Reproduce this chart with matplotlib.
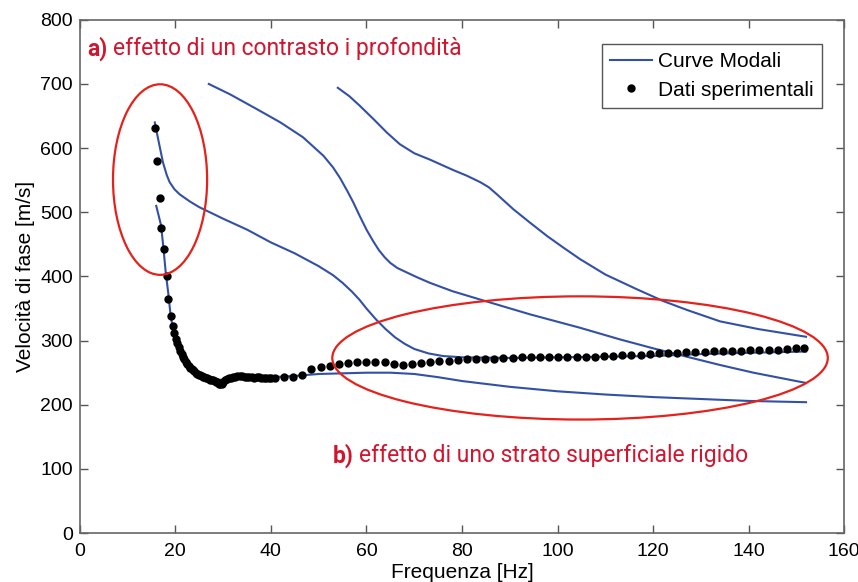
import matplotlib
matplotlib.use("Agg")
import matplotlib.pyplot as plt
from matplotlib.patches import Ellipse

# modal curves (frequency [Hz], phase velocity [m/s])
c1_f = [16, 16.5, 17, 17.5, 18, 18.5, 19, 19.5, 20, 21, 22, 23, 24, 25, 26, 27, 28, 29, 30,
        32, 35, 38, 40, 45, 50, 55, 60, 65, 70, 75, 80, 90, 100, 110, 120, 130, 140, 152]
c1_v = [510, 495, 480, 445, 405, 375, 340, 318, 305, 289, 275, 264, 256, 250, 246, 243, 241, 239, 239,
        241, 243, 243, 243, 245, 248, 249, 250, 250, 248, 243, 237, 228, 221, 216, 212, 209, 206, 204]

c2_f = [15.7, 16.4, 17.4, 18.2, 18.8, 19.8, 20.9, 23, 25, 30, 35, 40, 45, 50, 53, 55, 57, 58.5, 60,
        62, 64, 66, 68, 70, 73, 76, 80, 90, 100, 110, 120, 130, 140, 152]
c2_v = [640, 614, 578, 558, 547, 536, 528, 517, 508, 490, 473, 453, 436, 416, 402, 390, 376, 364, 350,
        333, 318, 305, 295, 287, 280, 276, 274, 273, 274, 275, 276, 279, 281, 283]

c3_f = [27, 31.4, 37, 42, 46.7, 51, 53, 54.5, 56, 57.2, 58.6, 60, 61.4, 62.6, 63.8, 65, 66.5,
        68.5, 70.8, 73.3, 78, 83.8, 94.2, 104.7, 113, 120, 127, 134, 141, 152]
c3_v = [700, 684, 661, 640, 617, 588, 570, 553, 533, 516, 494, 473, 455, 441, 430, 421, 413,
        406, 398, 390, 377, 364, 341, 320, 302, 288, 275, 262, 250, 234]

c4_f = [54, 56.4, 58.6, 61.5, 64.3, 67, 70, 73.3, 76, 78.1, 81, 83.8, 85.6, 87.3, 90.7, 94.2,
        97.8, 101.2, 104.7, 110, 116.6, 122, 127, 134, 142, 152]
c4_v = [694, 681, 666, 645, 624, 606, 592, 582, 573, 566, 557, 547, 539, 528, 505, 484,
        463, 445, 427, 403, 380, 362, 348, 330, 318, 306]

# experimental points
exp_f = [15.7, 16.2, 16.8, 17.1, 17.6, 18.15, 18.5, 19.06, 19.5,
         19.8, 20.1, 20.4, 20.7, 21.0, 21.3, 21.6, 21.9, 22.2, 22.5, 22.8, 23.1, 23.4, 23.7, 24.0,
         24.3, 24.6, 24.9, 25.2, 25.5, 25.8, 26.1, 26.4, 26.7, 27.0, 27.3, 27.6, 27.9, 28.2, 28.5,
         28.8, 29.1, 29.4, 29.7, 30.0, 30.4, 30.8, 31.2, 31.6, 32.0, 32.5, 33.0, 33.5, 34.0, 34.5,
         35.0, 35.5, 36.0, 36.5, 37.0, 37.5, 38.0, 38.5, 39.0, 39.5, 40.0,
         40.8, 42.7, 44.6, 46.5, 48.4, 50.4, 52.3, 54.2, 56.1, 58.0, 59.9, 61.8, 63.8, 65.7, 67.6,
         69.5, 71.4, 73.3, 75.2, 77.2, 79.1, 81.0, 82.9, 84.8, 86.7, 88.6, 90.6, 92.5, 94.4, 96.3,
         98.2, 100.1, 102.0, 104.0, 105.9, 107.8, 109.7, 111.6, 113.5, 115.4, 117.4, 119.3, 121.2,
         123.1, 125.0, 126.9, 128.8, 130.8, 132.7, 134.6, 136.5, 138.4, 140.3, 142.2, 144.2, 146.1,
         148.0, 149.9, 151.6]
exp_v = [632, 580, 522, 475, 443, 400, 365, 339, 322,
         312, 303, 296, 290, 284, 279, 275, 271, 267, 264, 261, 258, 256, 254, 252,
         250, 248, 247, 246, 245, 244, 243, 242, 241, 240, 239, 238, 238, 237, 236,
         235, 233, 232, 233, 235, 238, 240, 241, 242, 243, 244, 245, 245, 245, 244,
         244, 243, 243, 242, 243, 243, 242, 242, 241, 242, 242,
         242, 243, 244, 246, 255, 259, 261, 263, 265, 267, 267, 267, 266, 263, 262,
         263, 265, 266, 268, 269, 270, 271, 271, 272, 272, 273, 273, 274, 274, 274,
         274, 274, 274, 275, 275, 275, 276, 276, 277, 277, 278, 279, 280,
         280, 281, 282, 283, 283, 284, 284, 284, 284, 285, 285, 286, 286,
         287, 288, 288]

x_ticks = [0, 20, 40, 60, 80, 100, 120, 140, 160]
y_ticks = [0, 100, 200, 300, 400, 500, 600, 700, 800]

text_a = "effetto di un contrasto i profondità"
text_b = "effetto di uno strato superficiale rigido"

blue = "#3250a6"
red_txt = "#d2152f"
red_ell = "#e5211b"
axis_font = ["Liberation Sans Narrow", "Liberation Sans", "DejaVu Sans"]
note_font = ["Roboto", "DejaVu Sans"]

fig = plt.figure(figsize=(8.58, 5.82), dpi=100)
ax = fig.add_axes([0.093, 0.084, 0.891, 0.882])

ax.plot(c1_f, c1_v, color=blue, lw=1.5, label="Curve Modali")
ax.plot(c2_f, c2_v, color=blue, lw=1.5)
ax.plot(c3_f, c3_v, color=blue, lw=1.5)
ax.plot(c4_f, c4_v, color=blue, lw=1.5)
ax.plot(exp_f, exp_v, "o", color="black", ms=5, mec="black", label="Dati sperimentali")

# highlight ellipses
ax.add_patch(Ellipse((16.8, 551), 19.7, 297, fill=False, ec=red_ell, lw=1.6, zorder=5))
ax.add_patch(Ellipse((104.7, 273), 103.7, 192, fill=False, ec=red_ell, lw=1.6, zorder=5))

ax.set_xlim(0, 160)
ax.set_ylim(0, 800)
ax.set_xticks(x_ticks)
ax.set_yticks(y_ticks)
ax.tick_params(direction="in", top=True, right=True, length=6, width=1, color="#555555",
               labelsize=14)
ax.tick_params(axis="x", pad=7)
ax.tick_params(axis="y", pad=5)
for lab in ax.get_xticklabels() + ax.get_yticklabels():
    lab.set_family(axis_font)
for sp in ax.spines.values():
    sp.set_color("#666666")
    sp.set_linewidth(1.2)

ax.set_xlabel("Frequenza [Hz]", family=axis_font, fontsize=15, labelpad=2)
ax.set_ylabel("Velocità di fase [m/s]", family=axis_font, fontsize=15, labelpad=4)

leg = ax.legend(loc="upper right", bbox_to_anchor=(0.971, 0.953), borderaxespad=0,
                fancybox=False, edgecolor="#555555", framealpha=1, handlelength=2.0,
                handletextpad=0.3, borderpad=0.4, labelspacing=0.45,
                prop={"family": axis_font, "size": 15})
leg.get_frame().set_linewidth(1.0)

ax.text(1.6, 755, "a)", color=red_txt, family=note_font, fontsize=16.5, fontweight="bold", va="center")
ax.text(7.0, 755, text_a, color=red_txt, family=note_font, fontsize=16.5, va="center")
ax.text(53.0, 121, "b)", color=red_txt, family=note_font, fontsize=16.5, fontweight="bold", va="center")
ax.text(58.4, 121, text_b, color=red_txt, family=note_font, fontsize=16.5, va="center")

fig.savefig("out.png", dpi=100)
